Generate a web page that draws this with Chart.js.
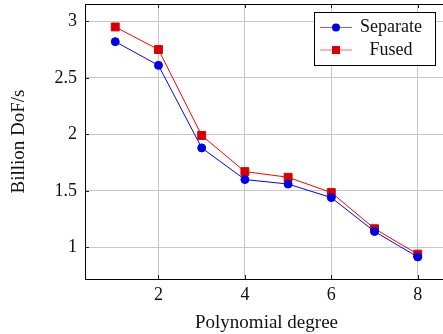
<!DOCTYPE html>
<html>
<head>
<meta charset="utf-8">
<script src="https://cdn.jsdelivr.net/npm/chart.js@4"></script>
<style>
  html, body { margin: 0; padding: 0; background: #fff; overflow: hidden; }
  #wrap { width: 448px; height: 334px; }
</style>
</head>
<body>
<div id="wrap"><canvas id="chart"></canvas></div>
<script>
const degrees = [1, 2, 3, 4, 5, 6, 7, 8];
const separate = [2.82, 2.61, 1.88, 1.60, 1.56, 1.44, 1.14, 0.915];
const fused = [2.95, 2.75, 1.99, 1.67, 1.62, 1.485, 1.165, 0.94];
const xTicks = [2, 4, 6, 8];
const yTicks = [1, 1.5, 2, 2.5, 3];

const serif = "'Liberation Serif', 'DejaVu Serif', serif";

// frame, inward tick marks and legend box (pgfplots look)
const framePlugin = {
  id: "frame",
  afterDraw(chart) {
    const { ctx, chartArea: a, scales } = chart;
    ctx.save();
    ctx.strokeStyle = "#222";
    ctx.lineWidth = 1;
    ctx.beginPath();
    xTicks.forEach((t) => {
      const x = Math.round(scales.x.getPixelForValue(t)) + 0.5;
      ctx.moveTo(x, a.bottom); ctx.lineTo(x, a.bottom - 4);
      ctx.moveTo(x, a.top); ctx.lineTo(x, a.top + 4);
    });
    yTicks.forEach((t) => {
      const y = Math.round(scales.y.getPixelForValue(t)) + 0.5;
      ctx.moveTo(a.left, y); ctx.lineTo(a.left + 4, y);
    });
    ctx.stroke();
    ctx.strokeStyle = "#000";
    ctx.strokeRect(Math.round(a.left) + 0.5, Math.round(a.top) + 0.5,
      Math.round(a.right - a.left), Math.round(a.bottom - a.top));

    // legend
    const bx = 314.5, by = 12.5, bw = 121, bh = 53;
    ctx.fillStyle = "#fff";
    ctx.fillRect(bx, by, bw, bh);
    ctx.strokeStyle = "#000";
    ctx.strokeRect(bx, by, bw, bh);
    const rows = [27.5, 50];
    chart.data.datasets.forEach((ds, i) => {
      const y = rows[i];
      ctx.strokeStyle = ds.borderColor;
      ctx.lineWidth = 1;
      ctx.globalAlpha = 0.6;
      ctx.beginPath();
      ctx.moveTo(320, y); ctx.lineTo(352, y);
      ctx.stroke();
      ctx.globalAlpha = 1;
      ctx.fillStyle = ds.pointBackgroundColor;
      if (ds.pointStyle === "circle") {
        ctx.beginPath();
        ctx.arc(336, y, 4, 0, Math.PI * 2);
        ctx.fill();
      } else {
        ctx.fillRect(332, y - 4, 8, 8);
      }
      ctx.fillStyle = "#111";
      ctx.font = "18px " + serif;
      ctx.textAlign = "center";
      ctx.textBaseline = "middle";
      ctx.fillText(ds.label, 391, y);
    });
    ctx.restore();
  },
};

new Chart(document.getElementById("chart"), {
  type: "line",
  data: {
    labels: degrees,
    datasets: [
      {
        label: "Separate",
        data: degrees.map((d, i) => ({ x: d, y: separate[i] })),
        borderColor: "#0000ff",
        backgroundColor: "#0000ff",
        pointBackgroundColor: "#0000e6",
        pointBorderColor: "#0000e6",
        pointStyle: "circle",
        pointRadius: 4,
        borderWidth: 1,
      },
      {
        label: "Fused",
        data: degrees.map((d, i) => ({ x: d, y: fused[i] })),
        borderColor: "#ff0000",
        backgroundColor: "#ff0000",
        pointBackgroundColor: "#d60000",
        pointBorderColor: "#e00000",
        pointStyle: "rect",
        pointRadius: 5.6,
        borderWidth: 1,
      },
    ],
  },
  options: {
    responsive: true,
    maintainAspectRatio: false,
    animation: false,
    layout: { autoPadding: false, padding: { top: 4, right: 0, left: 0, bottom: 0 } },
    plugins: {
      legend: { display: false },
      tooltip: { enabled: false },
    },
    scales: {
      x: {
        type: "linear",
        min: 0.3,
        max: 8.7,
        afterBuildTicks: (s) => { s.ticks = xTicks.map((v) => ({ value: v })); },
        afterFit: (s) => {
          s.height = 55;
          s.paddingLeft = 0;
          s.paddingRight = 0;
        },
        grid: { color: "#c8c8c8", drawTicks: false },
        border: { display: false },
        ticks: { color: "#111", padding: 5, font: { family: serif, size: 18 } },
        title: {
          display: true,
          text: "Polynomial degree",
          color: "#111",
          padding: { top: 2, bottom: 0 },
          font: { family: serif, size: 19 },
        },
      },
      y: {
        min: 0.72,
        max: 3.153,
        afterBuildTicks: (s) => { s.ticks = yTicks.map((v) => ({ value: v })); },
        afterFit: (s) => {
          s.width = 85;
          s.paddingTop = 0;
          s.paddingBottom = 0;
        },
        grid: { color: "#c8c8c8", drawTicks: false },
        border: { display: false },
        ticks: {
          color: "#111",
          padding: 8,
          font: { family: serif, size: 18 },
          callback: (v) => String(v),
        },
        title: {
          display: true,
          text: "Billion DoF/s",
          color: "#111",
          padding: { top: 8, bottom: 0 },
          font: { family: serif, size: 19 },
        },
      },
    },
  },
  plugins: [framePlugin],
});
</script>
</body>
</html>
